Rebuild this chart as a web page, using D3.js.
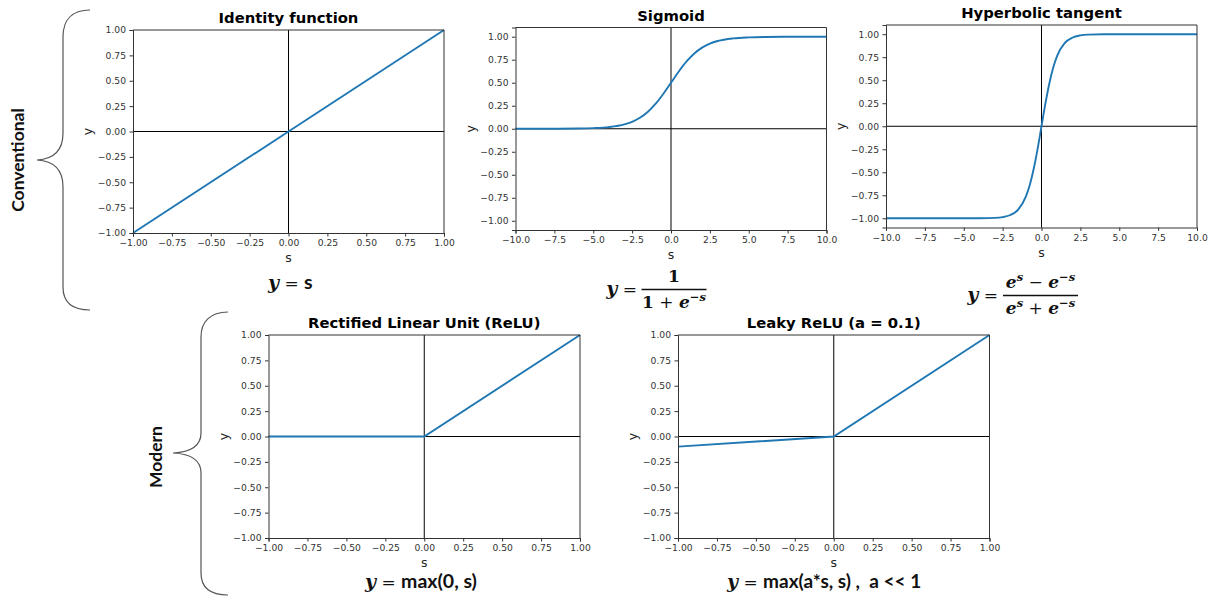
<!DOCTYPE html>
<html><head><meta charset="utf-8">
<script src="https://cdn.jsdelivr.net/npm/d3@7"></script>
<style>
html,body{margin:0;padding:0;background:#fff;}
svg{display:block;}
</style></head><body>
<svg id="chart" width="1212" height="601"></svg>
<script>
// ---------- data ----------
const identityS = [-1, 0, 1];
const identityY = [-1, 0, 1];
const sigmoidS = [-10, -8, -6, -5, -4, -3, -2.5, -2, -1.5, -1, -0.5, 0, 0.5, 1, 1.5, 2, 2.5, 3, 4, 5, 6, 8, 10];
const sigmoidY = [0.0001, 0.0003, 0.0025, 0.007, 0.018, 0.047, 0.076, 0.119, 0.182, 0.269, 0.378, 0.5, 0.622, 0.731, 0.818, 0.881, 0.924, 0.953, 0.982, 0.993, 0.9975, 0.9997, 0.9999];
const tanhS = [-10, -6, -4, -3, -2.5, -2, -1.5, -1, -0.75, -0.5, -0.25, 0, 0.25, 0.5, 0.75, 1, 1.5, 2, 2.5, 3, 4, 6, 10];
const tanhY = [-1, -1, -0.999, -0.995, -0.987, -0.964, -0.905, -0.762, -0.635, -0.462, -0.245, 0, 0.245, 0.462, 0.635, 0.762, 0.905, 0.964, 0.987, 0.995, 0.999, 1, 1];
const reluS = [-1, 0, 1];
const reluY = [0, 0, 1];
const leakyS = [-1, 0, 1];
const leakyY = [-0.1, 0, 1];

const unitTicks = [-1, -0.75, -0.5, -0.25, 0, 0.25, 0.5, 0.75, 1];
const wideTicks = [-10, -7.5, -5, -2.5, 0, 2.5, 5, 7.5, 10];
const yTicks = [-1, -0.75, -0.5, -0.25, 0, 0.25, 0.5, 0.75, 1];

const titles = ["Identity function", "Sigmoid", "Hyperbolic tangent", "Rectified Linear Unit (ReLU)", "Leaky ReLU (a = 0.1)"];
const groupLabels = ["Conventional", "Modern"];
const xLabel = "s", yLabel = "y";

// ---------- layout ----------
const svg = d3.select("#chart");
const SERIF = "'DejaVu Serif','Liberation Serif',serif";
const SANS = "Lato,'Open Sans',sans-serif";
const BLUE = "#1f77b4";

const panels = [
  {S: identityS, Y: identityY, title: titles[0], left: 133, top: 30, w: 311, h: 203, xd: [-1, 1], yd: [-1, 1], xt: unitTicks, xf: ".2f", curve: d3.curveLinear},
  {S: sigmoidS, Y: sigmoidY, title: titles[1], left: 515.5, top: 27.5, w: 311, h: 202.5, xd: [-10, 10], yd: [-1.1, 1.1], xt: wideTicks, xf: ".1f", curve: d3.curveMonotoneX},
  {S: tanhS, Y: tanhY, title: titles[2], left: 886, top: 25, w: 311, h: 202.5, xd: [-10, 10], yd: [-1.1, 1.1], xt: wideTicks, xf: ".1f", curve: d3.curveMonotoneX},
  {S: reluS, Y: reluY, title: titles[3], left: 268.5, top: 335, w: 311.5, h: 203, xd: [-1, 1], yd: [-1, 1], xt: unitTicks, xf: ".2f", curve: d3.curveLinear},
  {S: leakyS, Y: leakyY, title: titles[4], left: 678, top: 335, w: 311.5, h: 203, xd: [-1, 1], yd: [-1, 1], xt: unitTicks, xf: ".2f", curve: d3.curveLinear}
];

panels.forEach((p, i) => {
  const g = svg.append("g").attr("transform", `translate(${p.left},${p.top})`);
  const x = d3.scaleLinear().domain(p.xd).range([0, p.w]);
  const y = d3.scaleLinear().domain(p.yd).range([p.h, 0]);

  const clipId = "clip" + i;
  g.append("clipPath").attr("id", clipId).append("rect").attr("x", -1).attr("y", -1).attr("width", p.w + 2).attr("height", p.h + 2);

  // zero lines
  g.append("line").attr("x1", 0).attr("x2", p.w).attr("y1", y(0)).attr("y2", y(0)).attr("stroke", "#000").attr("stroke-width", 1);
  g.append("line").attr("x1", x(0)).attr("x2", x(0)).attr("y1", 0).attr("y2", p.h).attr("stroke", "#000").attr("stroke-width", 1);

  // curve
  const pts = p.S.map((s, k) => [s, p.Y[k]]);
  g.append("path").datum(pts)
    .attr("clip-path", `url(#${clipId})`)
    .attr("fill", "none").attr("stroke", BLUE).attr("stroke-width", 1.9)
    .attr("d", d3.line().x(d => x(d[0])).y(d => y(d[1])).curve(p.curve));

  // axes
  const xa = g.append("g").attr("transform", `translate(0,${p.h})`)
    .call(d3.axisBottom(x).tickValues(p.xt).tickFormat(d3.format(p.xf)).tickSize(3.5).tickPadding(3));
  const ya = g.append("g")
    .call(d3.axisLeft(y).tickValues(yTicks).tickFormat(d3.format(".2f")).tickSize(3.5).tickPadding(3.5));
  [xa, ya].forEach(a => {
    a.attr("font-family", "'DejaVu Sans',sans-serif").attr("font-size", 9.2);
    a.select(".domain").attr("stroke", "#333");
    a.selectAll(".tick line").attr("stroke", "#333");
    a.selectAll(".tick text").attr("fill", "#333");
  });
  // top & right spines
  g.append("line").attr("x1", 0).attr("x2", p.w).attr("y1", 0).attr("y2", 0).attr("stroke", "#333");
  g.append("line").attr("x1", p.w).attr("x2", p.w).attr("y1", 0).attr("y2", p.h).attr("stroke", "#333");

  // title
  g.append("text").attr("x", p.w / 2).attr("y", -7).attr("text-anchor", "middle")
    .attr("font-family", "'DejaVu Sans',sans-serif").attr("font-weight", "bold").attr("font-size", 14.8)
    .attr("fill", "#000").text(p.title);
  // axis labels
  g.append("text").attr("x", p.w / 2).attr("y", p.h + 29).attr("text-anchor", "middle")
    .attr("font-family", "'DejaVu Sans',sans-serif").attr("font-size", 12.5).attr("fill", "#222").text(xLabel);
  g.append("text").attr("transform", `translate(-41,${p.h / 2}) rotate(-90)`).attr("text-anchor", "middle")
    .attr("font-family", "'DejaVu Sans',sans-serif").attr("font-size", 12.5).attr("fill", "#222").text(yLabel);
});

// ---------- braces & group labels ----------
svg.append("path")
  .attr("d", "M90,10 C72,10 63,20 63,37 L63,133 C63,150 55,159 37,160 C55,161 63,170 63,187 L63,287 C63,302 72,310 90,310")
  .attr("fill", "none").attr("stroke", "#555").attr("stroke-width", 1.2);
svg.append("path")
  .attr("d", "M228,312 C210,312 201,322 201,337 L201,433 C201,445 193,452 173,453 C193,454 201,461 201,473 L201,573 C201,587 210,595 228,595")
  .attr("fill", "none").attr("stroke", "#555").attr("stroke-width", 1.2);

svg.append("text").attr("transform", "translate(24,160) rotate(-90)").attr("text-anchor", "middle")
  .attr("font-family", SANS).attr("font-weight", "bold").attr("font-size", 17.5).attr("fill", "#111").text(groupLabels[0]);
svg.append("text").attr("transform", "translate(162,457) rotate(-90)").attr("text-anchor", "middle")
  .attr("font-family", SANS).attr("font-weight", "bold").attr("font-size", 17.5).attr("fill", "#111").text(groupLabels[1]);

// ---------- formulas ----------
function runs(x, yb, anchor, parts) {
  const t = svg.append("text").attr("x", x).attr("y", yb).attr("text-anchor", anchor)
    .style("white-space", "pre").attr("fill", "#111");
  parts.forEach(pt => {
    const ts = t.append("tspan").text(pt.t)
      .attr("font-family", pt.f === "sans" ? SANS : SERIF)
      .attr("font-size", pt.s || 17)
      .attr("font-weight", pt.b ? "bold" : "normal")
      .attr("font-style", pt.i ? "italic" : "normal");
    if (pt.dy) ts.attr("dy", pt.dy);
  });
  return t;
}
const Y = {t: "y", i: true, b: true, s: 19};
const EQ = {t: " = ", s: 17};

runs(268, 289, "start", [Y, EQ, {t: "s", f: "sans", b: true, s: 19.5}]);
runs(365, 588, "start", [Y, EQ, {t: "max(0, s)", f: "sans", b: true, s: 19.5}]);
runs(727, 588, "start", [Y, EQ, {t: "max(a*s, s) ,  a << 1", f: "sans", b: true, s: 19}]);

// sigmoid
runs(637, 294.5, "end", [Y, {t: " =", s: 17}]);
svg.append("line").attr("x1", 641.5).attr("x2", 706.5).attr("y1", 289.5).attr("y2", 289.5).attr("stroke", "#111").attr("stroke-width", 1.3);
runs(674, 282, "middle", [{t: "1", b: true, s: 17}]);
runs(674, 307.5, "middle", [{t: "1", b: true, s: 17}, {t: " + ", s: 17}, {t: "e", i: true, b: true, s: 17}, {t: "−s", i: true, b: true, s: 11.5, dy: -7}]);

// tanh
runs(998, 300.5, "end", [Y, {t: " =", s: 17}]);
svg.append("line").attr("x1", 1003).attr("x2", 1078).attr("y1", 295.5).attr("y2", 295.5).attr("stroke", "#111").attr("stroke-width", 1.3);
runs(1040.5, 288, "middle", [{t: "e", i: true, b: true, s: 17}, {t: "s", i: true, b: true, s: 11.5, dy: -7}, {t: " − ", s: 17, dy: 7}, {t: "e", i: true, b: true, s: 17}, {t: "−s", i: true, b: true, s: 11.5, dy: -7}]);
runs(1040.5, 314, "middle", [{t: "e", i: true, b: true, s: 17}, {t: "s", i: true, b: true, s: 11.5, dy: -7}, {t: " + ", s: 17, dy: 7}, {t: "e", i: true, b: true, s: 17}, {t: "−s", i: true, b: true, s: 11.5, dy: -7}]);
</script>
</body></html>
